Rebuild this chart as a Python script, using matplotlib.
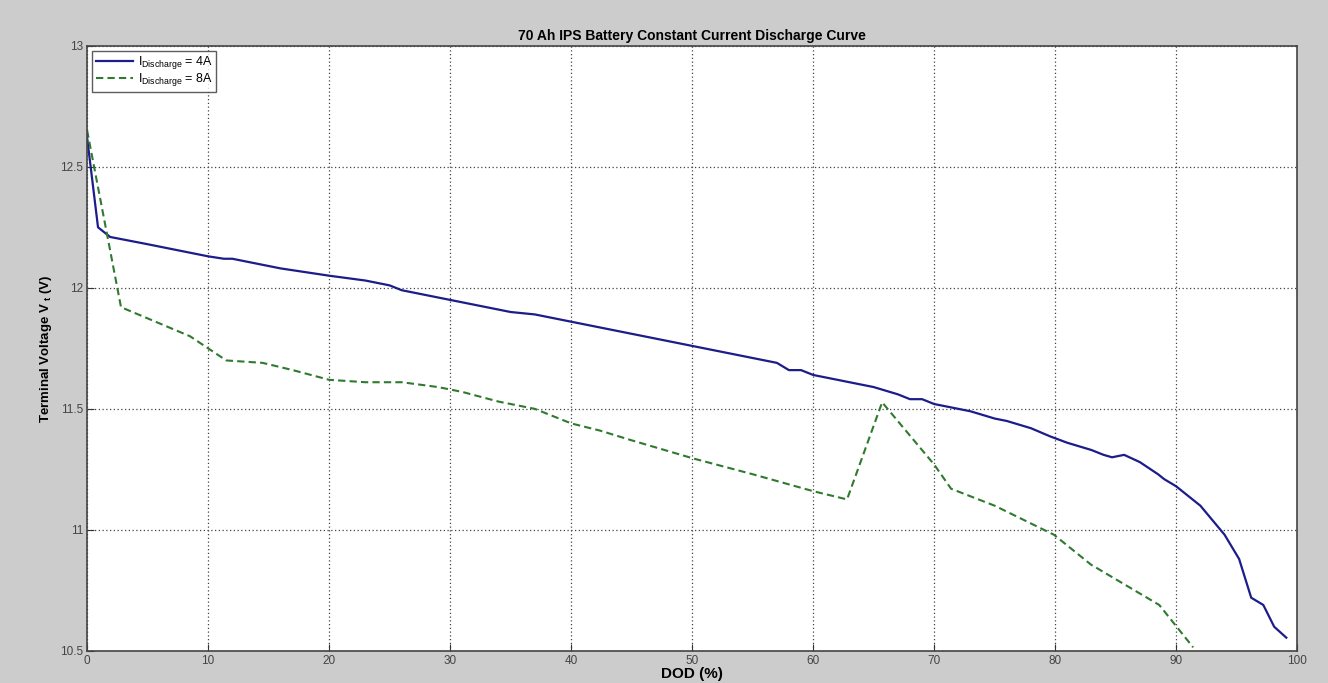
import matplotlib
matplotlib.use("Agg")
import matplotlib.pyplot as plt

plt.rcParams['font.family'] = ['Liberation Sans', 'DejaVu Sans']
plt.rcParams['mathtext.default'] = 'regular'

# 4 A discharge curve
dod_4a = [0, 0.9, 1.9, 5, 10, 11.3, 12, 15, 16, 20, 23, 25, 26, 28, 30, 35, 37, 40, 45, 50,
          55, 57, 58, 59, 60, 65, 67, 68, 69, 70, 72, 73, 75, 76, 78, 79.6, 81, 83, 84,
          84.7, 85.7, 87, 87.6, 88.5, 89, 90, 91, 92, 93.4, 94, 95.2, 96.2, 97.2, 98.1, 99.1]
v_4a = [12.62, 12.25, 12.21, 12.18, 12.13, 12.12, 12.12, 12.09, 12.08, 12.05, 12.03, 12.01, 11.99,
        11.97, 11.95, 11.90, 11.89, 11.86, 11.81, 11.76, 11.71, 11.69, 11.66, 11.66, 11.64, 11.59,
        11.56, 11.54, 11.54, 11.52, 11.50, 11.49, 11.46, 11.45, 11.42, 11.386, 11.36, 11.33, 11.31,
        11.30, 11.31, 11.28, 11.26, 11.23, 11.21, 11.18, 11.14, 11.10, 11.016, 10.98, 10.88,
        10.72, 10.69, 10.60, 10.555]

# 8 A discharge curve
dod_8a = [0, 2.8, 8.5, 10, 11.5, 14.5, 17, 20, 23, 26, 29, 31, 34, 37, 40, 42.4, 45, 50.1,
          55, 60, 62.8, 65.7, 70, 71.4, 75, 79.9, 82.95, 88.6, 91.4]
v_8a = [12.65, 11.92, 11.80, 11.75, 11.70, 11.69, 11.66, 11.62, 11.61, 11.61, 11.59, 11.57,
        11.53, 11.50, 11.44, 11.41, 11.37, 11.295, 11.23, 11.16, 11.126, 11.527, 11.27, 11.17,
        11.10, 10.98, 10.857, 10.69, 10.515]

x_ticks = list(range(0, 101, 10))
y_ticks = [10.5, 11, 11.5, 12, 12.5, 13]
y_tick_labels = ['10.5', '11', '11.5', '12', '12.5', '13']

fig = plt.figure(figsize=(13.28, 6.83), dpi=100, facecolor='#cccccc')
ax = fig.add_axes([0.0656, 0.0469, 0.9112, 0.8862])
ax.set_facecolor('white')

ax.plot(dod_4a, v_4a, color='#1c1c8a', lw=1.6, label=r'$I_{Discharge}$ = 4A')
ax.plot(dod_8a, v_8a, color='#2f7a2f', lw=1.5, ls=(0, (3.5, 2)), label=r'$I_{Discharge}$ = 8A')

ax.set_xlim(0, 100)
ax.set_ylim(10.5, 13)
ax.set_xticks(x_ticks)
ax.set_yticks(y_ticks)
ax.set_yticklabels(y_tick_labels)
ax.tick_params(direction='in', length=5, colors='#333333', labelsize=8.5, labelcolor='#444444', pad=3)
ax.grid(True, color='#444444', ls=(0, (1, 2)), lw=0.9)
for s in ax.spines.values():
    s.set_color('#444444')
    s.set_linewidth(1.2)

ax.set_title('70 Ah IPS Battery Constant Current Discharge Curve', fontsize=10, fontweight='bold', pad=4)
ax.set_xlabel('DOD (%)', fontsize=11, fontweight='bold', labelpad=0)
ax.set_ylabel(r'Terminal Voltage V$_{\ t}$ (V)', fontsize=9.5, fontweight='bold', labelpad=4)

leg = ax.legend(loc='upper left', fontsize=9, frameon=True, fancybox=False, borderaxespad=0.4,
                handlelength=3.0, handletextpad=0.35, labelspacing=0.0, borderpad=0.3)
leg.get_frame().set_edgecolor('#333333')
leg.get_frame().set_linewidth(1.0)

fig.savefig('out.png', dpi=100, facecolor=fig.get_facecolor())
